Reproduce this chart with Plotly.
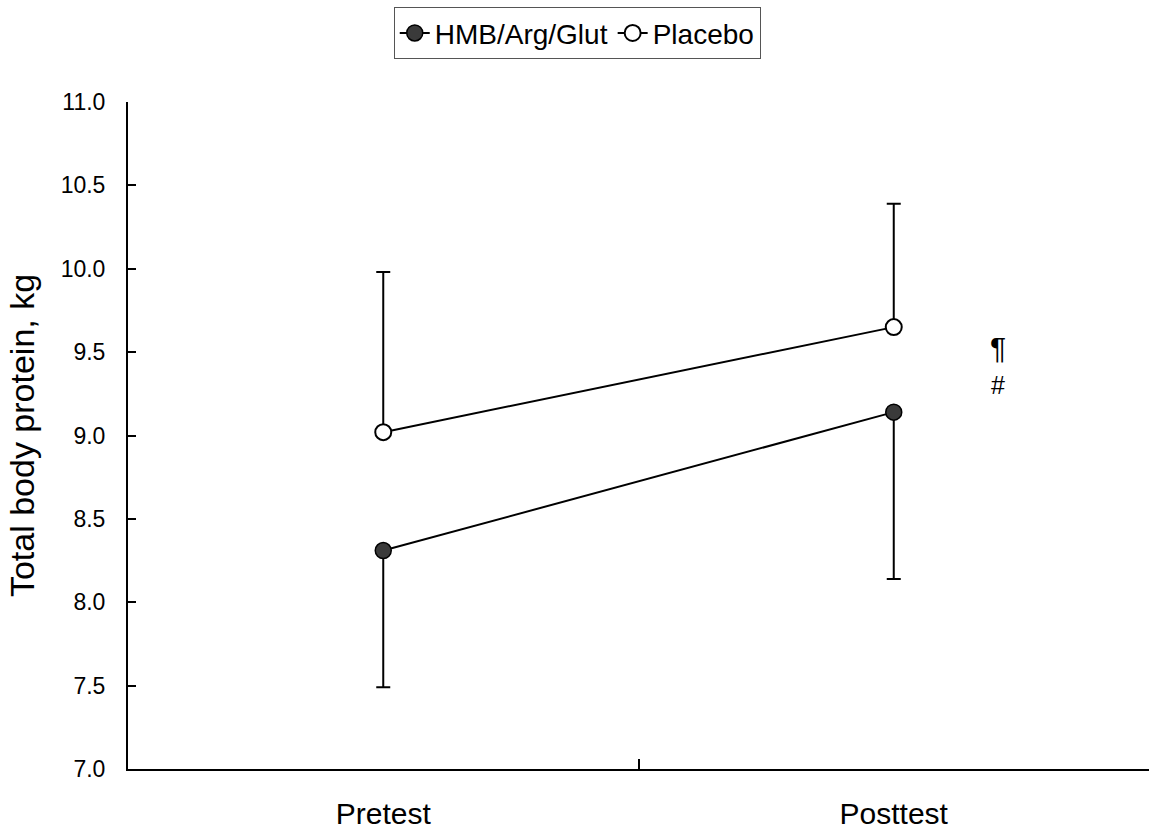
import plotly.graph_objects as go

timepoints = ["Pretest", "Posttest"]
hmb_mean = [8.31, 9.14]
hmb_sd_minus = [0.82, 1.00]
placebo_mean = [9.02, 9.65]
placebo_sd_plus = [0.96, 0.74]
y_ticks = [7.0, 7.5, 8.0, 8.5, 9.0, 9.5, 10.0, 10.5, 11.0]
marks = ["¶", "#"]
mark_y = [9.53, 9.30]
mark_size = [30, 25]

FONT = "Liberation Sans, Arial, Helvetica, sans-serif"

fig = go.Figure()
fig.add_trace(go.Scatter(
    x=timepoints, y=hmb_mean, name="HMB/Arg/Glut", mode="lines+markers",
    line=dict(color="black", width=2),
    marker=dict(size=16, color="#3a3a3a", line=dict(color="black", width=1.5)),
    error_y=dict(type="data", symmetric=False, array=[0, 0], arrayminus=hmb_sd_minus,
                 color="black", thickness=2, width=7),
))
fig.add_trace(go.Scatter(
    x=timepoints, y=placebo_mean, name="Placebo", mode="lines+markers",
    line=dict(color="black", width=2),
    marker=dict(size=16, color="white", line=dict(color="black", width=2)),
    error_y=dict(type="data", symmetric=False, array=placebo_sd_plus, arrayminus=[0, 0],
                 color="black", thickness=2, width=7),
))

for m, yv, sz in zip(marks, mark_y, mark_size):
    fig.add_annotation(x=1.205, y=yv, text=m, showarrow=False,
                       font=dict(family=FONT, size=sz, color="black"))

fig.update_layout(
    width=1149, height=833,
    margin=dict(l=128, r=0, t=102, b=64),
    paper_bgcolor="white", plot_bgcolor="white",
    font=dict(family=FONT, color="black"),
    showlegend=True,
    legend=dict(orientation="h", x=0.44, xanchor="center", y=1.142, yanchor="top",
                bordercolor="#555", borderwidth=1, font=dict(size=28, family=FONT),
                bgcolor="white", itemwidth=30),
    xaxis=dict(type="category", range=[-0.5, 1.5], tickson="boundaries",
               ticks="inside", ticklen=10, tickwidth=2, tickcolor="black",
               showline=True, linecolor="black", linewidth=2, showgrid=False,
               zeroline=False, tickfont=dict(size=30, family=FONT),
               ticklabelstandoff=17),
    yaxis=dict(range=[7.0, 11.0], tickvals=y_ticks,
               ticktext=[f"{v:.1f}" for v in y_ticks],
               ticks="inside", ticklen=8, tickwidth=2, tickcolor="black",
               showline=True, linecolor="black", linewidth=2, showgrid=False,
               zeroline=False, tickfont=dict(size=23, family=FONT),
               ticklabelstandoff=16,
               title=dict(text="Total body protein, kg", font=dict(size=34, family=FONT),
                          standoff=16)),
)

fig.write_html("out.html", config={"displayModeBar": False},
               post_script="document.body.style.margin='0';document.body.style.overflow='hidden';")
